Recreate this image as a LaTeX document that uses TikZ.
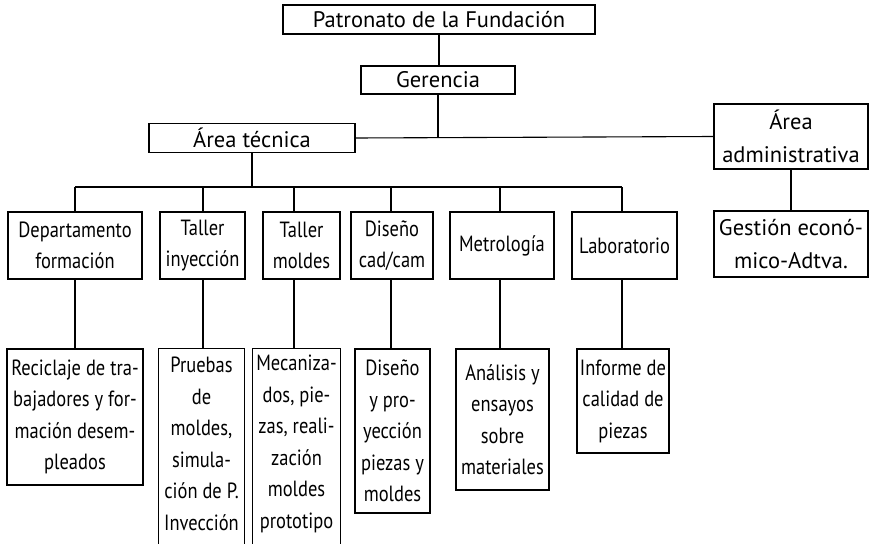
\documentclass[tikz,border=0pt]{standalone}
\usepackage{fontspec}
\setmainfont{PT Sans}
\newfontfamily\condf[FakeStretch=0.84]{PT Sans}
\begin{document}
\begin{tikzpicture}[x=1pt,y=-1pt,line width=1.1pt,
  box/.style={draw,inner sep=0pt,align=center,font=\fontsize{22.5}{33}\selectfont},
  cbox/.style={draw,inner sep=0pt,align=center,font=\condf\fontsize{22}{31.5}\selectfont},
  obox/.style={inner sep=0pt,align=center,font=\condf\fontsize{22}{31.5}\selectfont}]
\useasboundingbox (0,0) rectangle (869,543);
\clip (0,0) rectangle (869,543);
% top levels
\node[box,minimum width=312pt,minimum height=29pt] (pat) at (439,19.5) {Patronato de la Fundación};
\node[box,minimum width=154pt,minimum height=28pt] (ger) at (438,80) {Gerencia};
\node[box,minimum width=206pt,minimum height=29pt] (tec) at (252,138) {Área técnica};
\node[box,minimum width=154pt,minimum height=65pt] (adm) at (791,136.5) {Área\\administrativa};
\node[box,minimum width=154pt,minimum height=66pt] (ges) at (791,244) {Gestión econó-\\mico-Adtva.};
% row 2
\node[cbox,minimum width=134pt,minimum height=67pt] (dep) at (75,245.5) {Departamento\\formación};
\node[cbox,minimum width=85pt,minimum height=67pt] (tin) at (202.5,245.5) {Taller\\inyección};
\node[cbox,minimum width=77pt,minimum height=67pt] (tmo) at (301.5,245.5) {Taller\\moldes};
\node[cbox,minimum width=82pt,minimum height=67pt] (dis) at (392,245.5) {Diseño\\cad/cam};
\node[cbox,minimum width=104pt,minimum height=67pt] (met) at (502,245.5) {Metrología};
\node[cbox,minimum width=105pt,minimum height=67pt] (lab) at (624.5,245.5) {Laboratorio};
% row 3
\node[cbox,minimum width=136pt,minimum height=136pt] (rec) at (75,417) {Reciclaje de tra-\\bajadores y for-\\mación desem-\\pleados};
\node[obox,minimum width=85pt,minimum height=190pt] (pru) at (201.5,444) {Pruebas\\de\\moldes,\\simula-\\ción de P.\\Invección};
\node[obox,minimum width=87pt,minimum height=190pt] (mec) at (296.5,444) {Mecaniza-\\dos, pie-\\zas, reali-\\zación\\moldes\\prototipo};
\node[cbox,minimum width=75pt,minimum height=164pt] (dyp) at (392.5,431) {Diseño\\y pro-\\yección\\piezas y\\moldes};
\node[cbox,minimum width=93pt,minimum height=141pt] (ana) at (502.5,419.5) {Análisis y\\ensayos\\sobre\\materiales};
\node[cbox,minimum width=92pt,minimum height=104pt] (inf) at (623,401) {Informe de\\calidad de\\piezas};
\draw ([yshift=-12pt]pru.south west) |- (pru.north east) -- ([yshift=-12pt]pru.south east);
\draw ([yshift=-12pt]mec.south west) |- (mec.north east) -- ([yshift=-12pt]mec.south east);
% column coordinates on the bus
\coordinate (c1) at (75,187);
\coordinate (c2) at (203,187);
\coordinate (c3) at (294,187);
\coordinate (c4) at (391,187);
\coordinate (c5) at (500,187);
\coordinate (c6) at (622,187);
% connectors
\draw (pat.south) -- (pat.south |- ger.north);
\draw (ger.south) -- (ger.south |- tec.east);
\draw (tec.east) -- (adm.west);
\draw (adm.south) -- (ges.north);
\draw (tec.south) -- (tec.south |- c1);
\draw (c1) -- (c6);
\draw (c1) -- (c1 |- dep.north);
\draw (c2) -- (c2 |- tin.north);
\draw (c3) -- (c3 |- tmo.north);
\draw (c4) -- (c4 |- dis.north);
\draw (c5) -- (c5 |- met.north);
\draw (c6) -- (c6 |- lab.north);
\draw (c1 |- dep.south) -- (c1 |- rec.north);
\draw (c2 |- tin.south) -- (c2 |- pru.north);
\draw (c3 |- tmo.south) -- (c3 |- mec.north);
\draw (c4 |- dis.south) -- (c4 |- dyp.north);
\draw (c5 |- met.south) -- (c5 |- ana.north);
\draw (c6 |- lab.south) -- (c6 |- inf.north);
\end{tikzpicture}
\end{document}
